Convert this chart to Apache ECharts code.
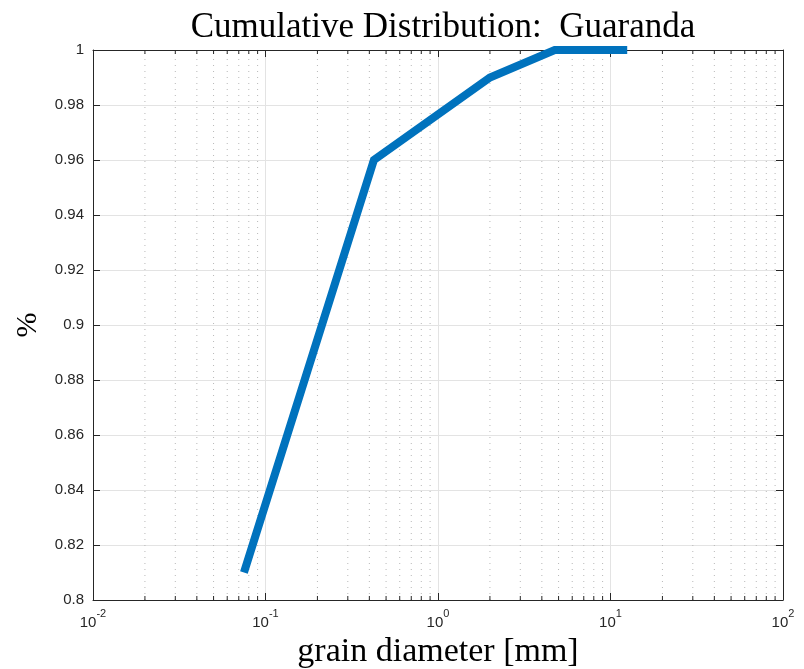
<!DOCTYPE html>
<html>
<head>
<meta charset="utf-8">
<script src="https://cdn.jsdelivr.net/npm/echarts@6/dist/echarts.min.js"></script>
<style>
  html, body { margin: 0; padding: 0; background: #fff; }
  #chart { width: 804px; height: 669px; }
</style>
</head>
<body>
<div id="chart"></div>
<script>
// Sieve sizes (mm) and cumulative passing fraction
const grainDiameter = [0.075, 0.425, 2, 4.75, 12.5];
const cumulativeFraction = [0.81, 0.96, 0.99, 1, 1];

// Axis ranges and ticks
const xDecades = [0.01, 0.1, 1, 10, 100];
const yTicks = [0.8, 0.82, 0.84, 0.86, 0.88, 0.9, 0.92, 0.94, 0.96, 0.98, 1];
const minorMultipliers = [2, 3, 4, 5, 6, 7, 8, 9];

const minorValues = [];
for (let d = 0; d < xDecades.length - 1; d++) {
  minorMultipliers.forEach(m => minorValues.push(+(m * xDecades[d]).toPrecision(3)));
}

const axisColor = '#262626';
const tickFont = 'Liberation Sans, Arial, Helvetica, sans-serif';
const serifFont = 'Liberation Serif, DejaVu Serif, serif';

const gridLeft = 93, gridRight = 21, gridTop = 50, gridBottom = 69;

const chart = echarts.init(document.getElementById('chart'), null, { renderer: 'canvas' });

const option = {
  backgroundColor: '#ffffff',
  animation: false,
  title: {
    text: 'Cumulative Distribution:  Guaranda',
    left: gridLeft + (804 - gridLeft - gridRight) / 2,
    textAlign: 'center',
    top: 5,
    textStyle: { fontFamily: serifFont, fontWeight: 'normal', fontSize: 35, color: '#000' }
  },
  grid: {
    left: gridLeft, right: gridRight, top: gridTop, bottom: gridBottom,
    containLabel: false,
    outerBoundsMode: 'none'
  },
  xAxis: [
    {
      type: 'log',
      logBase: 10,
      min: xDecades[0],
      max: xDecades[xDecades.length - 1],
      position: 'bottom',
      name: 'grain diameter [mm]',
      nameLocation: 'middle',
      nameGap: 31,
      nameTextStyle: { fontFamily: serifFont, fontSize: 34, color: '#000' },
      axisLine: { show: true, lineStyle: { color: axisColor, width: 1 } },
      axisTick: { show: true, inside: true, length: 7, lineStyle: { color: axisColor } },
      axisLabel: {
        margin: 8,
        formatter: v => '{b|10}{s|' + Math.round(Math.log10(v)) + '}',
        rich: {
          b: { fontFamily: tickFont, fontSize: 15, color: axisColor, padding: [7, 0, 0, 0] },
          s: { fontFamily: tickFont, fontSize: 11, color: axisColor, verticalAlign: 'top' }
        }
      },
      splitLine: { show: true, lineStyle: { color: '#e3e3e3', width: 1 } },
      minorTick: { show: false },
      minorSplitLine: { show: false }
    },
    {
      type: 'log',
      logBase: 10,
      min: xDecades[0],
      max: xDecades[xDecades.length - 1],
      position: 'top',
      axisLine: { show: true, lineStyle: { color: axisColor, width: 1 } },
      axisTick: { show: true, inside: true, length: 7, lineStyle: { color: axisColor } },
      axisLabel: { show: false },
      splitLine: { show: false }
    }
  ],
  yAxis: [
    {
      type: 'value',
      min: yTicks[0],
      max: yTicks[yTicks.length - 1],
      interval: 0.02,
      position: 'left',
      name: '%',
      nameLocation: 'middle',
      nameGap: 50,
      nameRotate: 90,
      nameTextStyle: { fontFamily: serifFont, fontSize: 30, color: '#000' },
      axisLine: { show: true, lineStyle: { color: axisColor, width: 1 } },
      axisTick: { show: true, inside: true, length: 7, lineStyle: { color: axisColor } },
      axisLabel: {
        margin: 9,
        fontFamily: tickFont, fontSize: 15, color: axisColor,
        formatter: v => String(+v.toFixed(2))
      },
      splitLine: { show: true, lineStyle: { color: '#e3e3e3', width: 1 } }
    },
    {
      type: 'value',
      min: yTicks[0],
      max: yTicks[yTicks.length - 1],
      interval: 0.02,
      position: 'right',
      axisLine: { show: true, lineStyle: { color: axisColor, width: 1 } },
      axisTick: { show: true, inside: true, length: 7, lineStyle: { color: axisColor } },
      axisLabel: { show: false },
      splitLine: { show: false }
    }
  ],
  series: [
    {
      // dotted minor grid lines with short inside ticks on top and bottom edges
      type: 'custom',
      xAxisIndex: 0,
      yAxisIndex: 0,
      silent: true,
      z: 1,
      data: minorValues.map(v => [v]),
      renderItem: (params, api) => {
        const v = api.value(0);
        const bottom = api.coord([v, yTicks[0]]);
        const top = api.coord([v, yTicks[yTicks.length - 1]]);
        return {
          type: 'group',
          children: [
            {
              type: 'line',
              shape: { x1: bottom[0], y1: bottom[1], x2: top[0], y2: top[1] },
              style: { stroke: '#b8b8b8', lineWidth: 1, lineDash: [1, 5] }
            },
            {
              type: 'line',
              shape: { x1: bottom[0], y1: bottom[1], x2: bottom[0], y2: bottom[1] - 4 },
              style: { stroke: axisColor, lineWidth: 1 }
            },
            {
              type: 'line',
              shape: { x1: top[0], y1: top[1], x2: top[0], y2: top[1] + 4 },
              style: { stroke: axisColor, lineWidth: 1 }
            }
          ]
        };
      }
    },
    {
      type: 'line',
      xAxisIndex: 0,
      yAxisIndex: 0,
      data: grainDiameter.map((d, i) => [d, cumulativeFraction[i]]),
      showSymbol: false,
      symbol: 'none',
      clip: false,
      z: 5,
      lineStyle: { color: '#0072BD', width: 8, cap: 'butt', join: 'miter' }
    }
  ]
};

chart.setOption(option);
</script>
</body>
</html>
